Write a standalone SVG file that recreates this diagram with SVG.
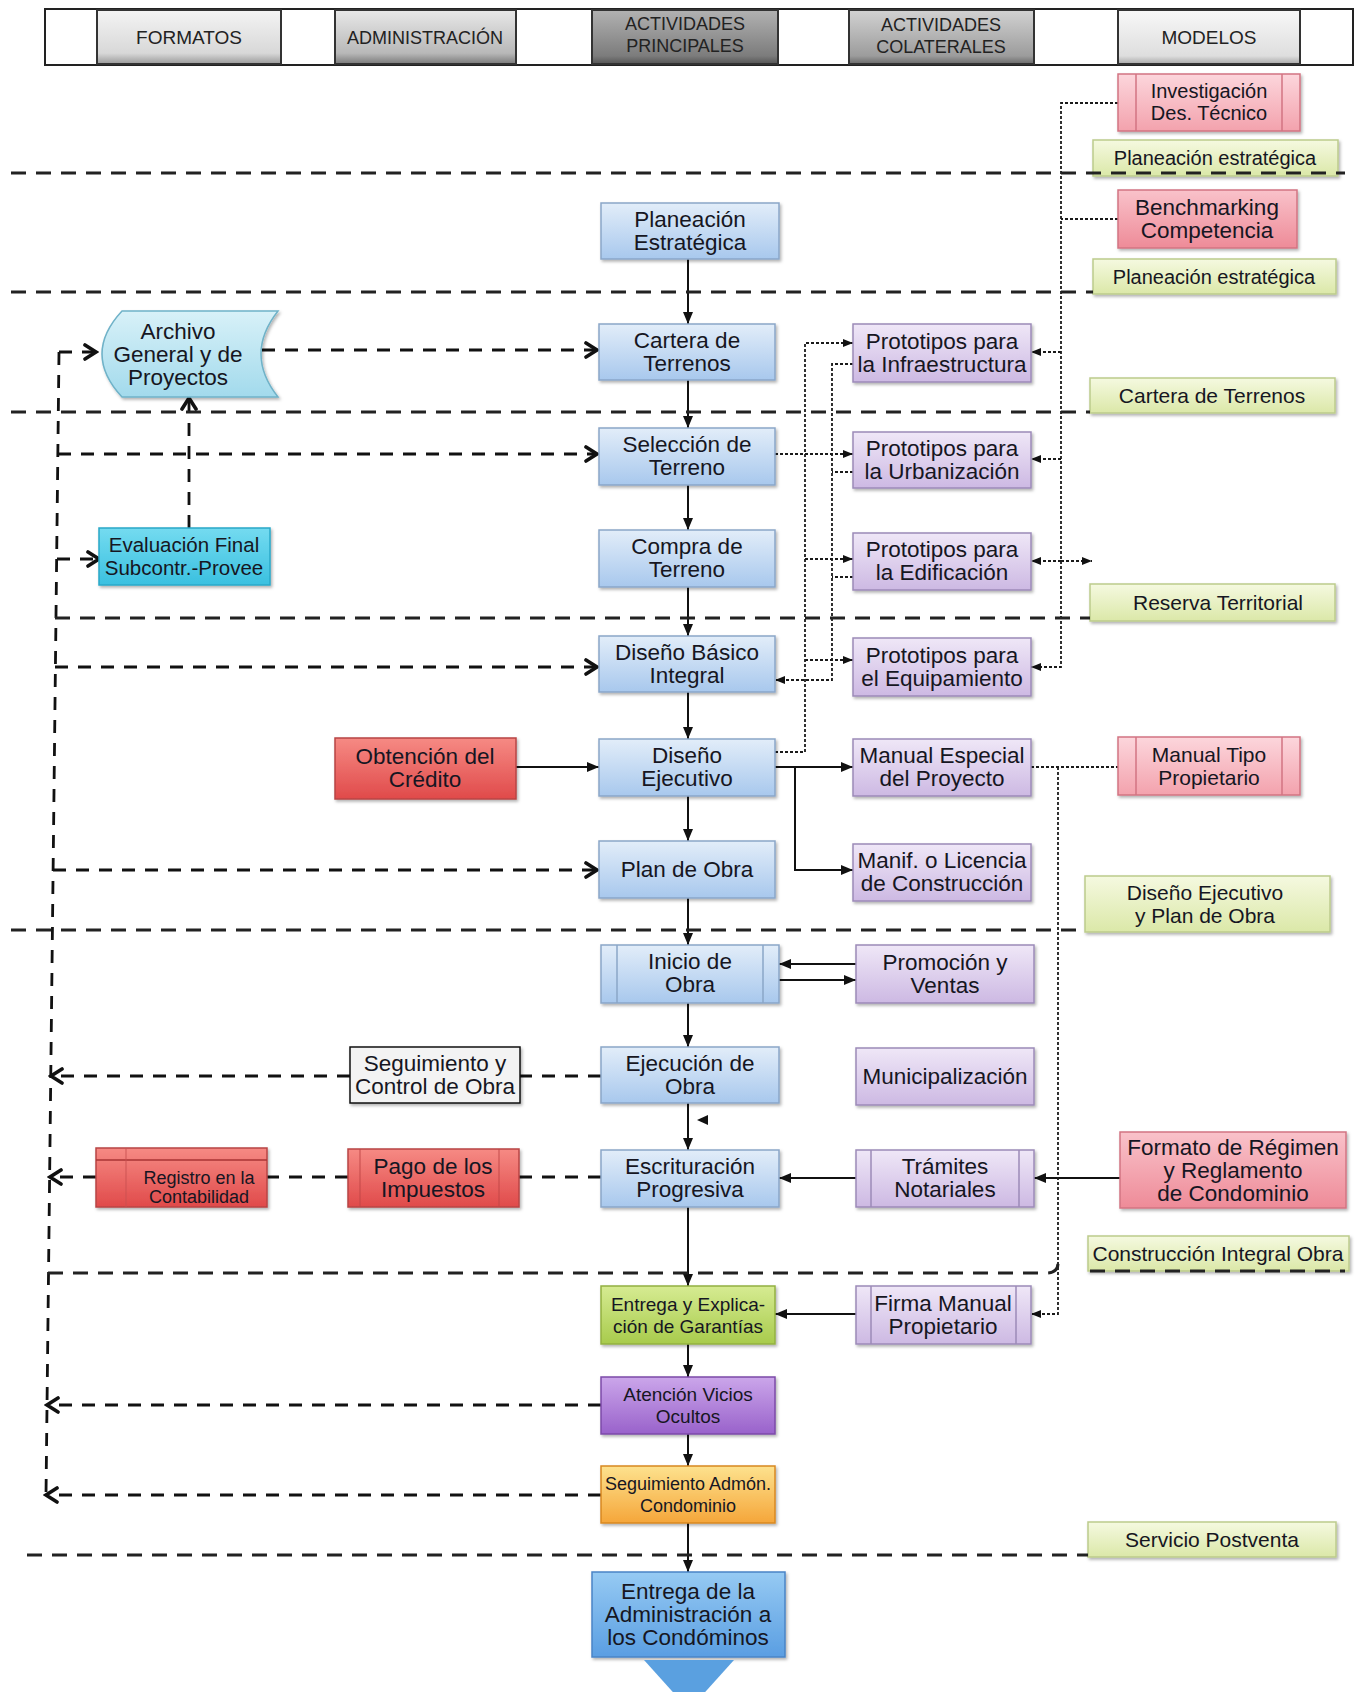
<svg xmlns="http://www.w3.org/2000/svg" width="1362" height="1692" viewBox="0 0 1362 1692">
<style>
  .t{font-family:"Liberation Sans",Arial,sans-serif;font-size:22.5px;fill:#161622;text-anchor:middle}
  .s20{font-size:20px}.s21{font-size:21px}.s19{font-size:19px}.s18{font-size:18px}
  .hd{font-family:"Liberation Sans",Arial,sans-serif;font-size:19px;fill:#222;text-anchor:middle}
  .box{stroke-width:1.5;filter:url(#sh)}
  .blue{fill:url(#gBlue);stroke:#8aa6c8}
  .purple{fill:url(#gPurple);stroke:#9c8ab8}
  .pink{fill:url(#gPink);stroke:#d27482}
  .pinkL{fill:url(#gPinkL);stroke:#d27482}
  .green{fill:url(#gGreen);stroke:#bccb8c}
  .red{fill:url(#gRed);stroke:#b84444}
  .inner{fill:none;stroke-width:1.5}
  .solid{fill:none;stroke:#111;stroke-width:2;marker-end:url(#arr)}
  .dash{fill:none;stroke:#111;stroke-width:2.8;stroke-dasharray:13 10}
  .dot{fill:none;stroke:#1a1a1a;stroke-width:1.8;stroke-dasharray:3 2}
  .sep{fill:none;stroke:#222;stroke-width:3;stroke-dasharray:15 10}
  .cell{stroke:#333;stroke-width:2}
</style>
<defs>
  <filter id="sh" x="-5%" y="-5%" width="115%" height="130%">
    <feDropShadow dx="1.5" dy="2" stdDeviation="1.5" flood-color="#000" flood-opacity="0.3"/>
  </filter>
  <linearGradient id="gBlue" x1="0" y1="0" x2="0" y2="1"><stop offset="0" stop-color="#e2edf9"/><stop offset="1" stop-color="#a8c8ed"/></linearGradient>
  <linearGradient id="gPurple" x1="0" y1="0" x2="0" y2="1"><stop offset="0" stop-color="#efe7f7"/><stop offset="1" stop-color="#cdb9e3"/></linearGradient>
  <linearGradient id="gPink" x1="0" y1="0" x2="0" y2="1"><stop offset="0" stop-color="#f9c2ca"/><stop offset="1" stop-color="#ee8b98"/></linearGradient>
  <linearGradient id="gPinkL" x1="0" y1="0" x2="0" y2="1"><stop offset="0" stop-color="#fcd6dc"/><stop offset="1" stop-color="#f3a2ad"/></linearGradient>
  <linearGradient id="gGreen" x1="0" y1="0" x2="0" y2="1"><stop offset="0" stop-color="#f5f9e0"/><stop offset="1" stop-color="#dbe8a8"/></linearGradient>
  <linearGradient id="gRed" x1="0" y1="0" x2="0" y2="1"><stop offset="0" stop-color="#f68a84"/><stop offset="1" stop-color="#e04a4a"/></linearGradient>
  <linearGradient id="gCyan" x1="0" y1="0" x2="0" y2="1"><stop offset="0" stop-color="#d8f1f8"/><stop offset="1" stop-color="#a2daec"/></linearGradient>
  <linearGradient id="gCyan2" x1="0" y1="0" x2="0" y2="1"><stop offset="0" stop-color="#74dbf0"/><stop offset="1" stop-color="#3ac0e0"/></linearGradient>
  <linearGradient id="gLime" x1="0" y1="0" x2="0" y2="1"><stop offset="0" stop-color="#d6eb92"/><stop offset="1" stop-color="#a8cb4c"/></linearGradient>
  <linearGradient id="gViolet" x1="0" y1="0" x2="0" y2="1"><stop offset="0" stop-color="#cba6ea"/><stop offset="1" stop-color="#9962cb"/></linearGradient>
  <linearGradient id="gOrange" x1="0" y1="0" x2="0" y2="1"><stop offset="0" stop-color="#fde28e"/><stop offset="1" stop-color="#f5a63a"/></linearGradient>
  <linearGradient id="gBlue2" x1="0" y1="0" x2="0" y2="1"><stop offset="0" stop-color="#96caf3"/><stop offset="1" stop-color="#5a9ee2"/></linearGradient>
  <linearGradient id="hg1" x1="0" y1="0" x2="0" y2="1"><stop offset="0" stop-color="#f4f4f4"/><stop offset="0.8" stop-color="#d8d8d8"/><stop offset="1" stop-color="#9a9a9a"/></linearGradient>
  <linearGradient id="hg2" x1="0" y1="0" x2="0" y2="1"><stop offset="0" stop-color="#e8e8e8"/><stop offset="0.8" stop-color="#b8b8b8"/><stop offset="1" stop-color="#7a7a7a"/></linearGradient>
  <linearGradient id="hg3" x1="0" y1="0" x2="0" y2="1"><stop offset="0" stop-color="#b2b2b2"/><stop offset="0.85" stop-color="#7c7c7c"/><stop offset="1" stop-color="#555"/></linearGradient>
  <linearGradient id="hg4" x1="0" y1="0" x2="0" y2="1"><stop offset="0" stop-color="#d2d2d2"/><stop offset="0.85" stop-color="#9c9c9c"/><stop offset="1" stop-color="#6a6a6a"/></linearGradient>
  <linearGradient id="hg5" x1="0" y1="0" x2="0" y2="1"><stop offset="0" stop-color="#f8f8f8"/><stop offset="0.85" stop-color="#dedede"/><stop offset="1" stop-color="#a8a8a8"/></linearGradient>
  <marker id="arr" viewBox="0 0 12 10" refX="12" refY="5" markerWidth="12" markerHeight="10" markerUnits="userSpaceOnUse" orient="auto"><path d="M0,0 L12,5 L0,10 z" fill="#111"/></marker>
  <marker id="chev" viewBox="0 0 16 18" refX="13" refY="9" markerWidth="16" markerHeight="18" markerUnits="userSpaceOnUse" orient="auto"><path d="M2,2 L13,9 L2,16" fill="none" stroke="#111" stroke-width="3.6" stroke-linecap="round" stroke-linejoin="miter"/></marker>
  <marker id="tri" viewBox="0 0 10 8" refX="10" refY="4" markerWidth="10" markerHeight="8" markerUnits="userSpaceOnUse" orient="auto"><path d="M0,0 L10,4 L0,8 z" fill="#111"/></marker>
</defs>

<rect width="1362" height="1692" fill="#ffffff"/>

<!-- column header -->
<g id="header">
  <rect x="45" y="9" width="1308" height="56" fill="#fff" stroke="#222" stroke-width="2"/>
  <rect class="cell" x="97" y="10" width="184" height="54" fill="url(#hg1)"/>
  <text class="hd" x="189" y="44">FORMATOS</text>
  <rect class="cell" x="335" y="10" width="181" height="54" fill="url(#hg2)"/>
  <text class="hd" x="425" y="44" style="font-size:18px">ADMINISTRACIÓN</text>
  <rect class="cell" x="592" y="10" width="186" height="54" fill="url(#hg3)"/>
  <text class="hd" x="685" y="30" style="font-size:18px">ACTIVIDADES</text>
  <text class="hd" x="685" y="52" style="font-size:18px">PRINCIPALES</text>
  <rect class="cell" x="849" y="10" width="185" height="54" fill="url(#hg4)"/>
  <text class="hd" x="941" y="31" style="font-size:18px">ACTIVIDADES</text>
  <text class="hd" x="941" y="53" style="font-size:18px">COLATERALES</text>
  <rect class="cell" x="1118" y="10" width="182" height="54" fill="url(#hg5)"/>
  <text class="hd" x="1209" y="44">MODELOS</text>
</g>

<!-- connectors -->
<g id="connectors">
  <!-- main sequence -->
  <path class="solid" d="M688 259V324"/>
  <path class="solid" d="M688 380V428"/>
  <path class="solid" d="M688 485V530"/>
  <path class="solid" d="M688 587V636"/>
  <path class="solid" d="M688 692V739"/>
  <path class="solid" d="M688 796V841"/>
  <path class="solid" d="M688 898V945"/>
  <path class="solid" d="M688 1003V1047"/>
  <path class="solid" d="M688 1103V1150"/>
  <path class="solid" d="M688 1207V1286"/>
  <path class="solid" d="M688 1344V1377"/>
  <path class="solid" d="M688 1434V1466"/>
  <path class="solid" d="M688 1523V1572"/>
  <polygon points="697,1120 708,1115 708,1125" fill="#111"/>
  <!-- side solid links -->
  <path class="solid" d="M516 767H599"/>
  <path class="solid" d="M775 767H853"/>
  <path class="solid" d="M795 767V870H853"/>
  <path class="solid" d="M856 964H779"/>
  <path class="solid" d="M779 980H856"/>
  <path class="solid" d="M856 1178H779"/>
  <path class="solid" d="M1120 1178H1034"/>
  <path class="solid" d="M856 1314H775"/>

  <!-- archive / administration feedback -->
  <path class="dash" d="M59 352L46 1495"/>
  <path class="dash" d="M59 352H96" marker-end="url(#chev)"/>
  <path class="dash" d="M262 350H597" marker-end="url(#chev)"/>
  <path class="dash" d="M58 454H597" marker-end="url(#chev)"/>
  <path class="dash" d="M189 528V398" marker-end="url(#chev)"/>
  <path class="dash" d="M57 559H99" marker-end="url(#chev)"/>
  <path class="dash" d="M55 667H597" marker-end="url(#chev)"/>
  <path class="dash" d="M53 870H597" marker-end="url(#chev)"/>
  <path class="dash" d="M601 1076H520"/>
  <path class="dash" d="M350 1076H51" marker-end="url(#chev)"/>
  <path class="dash" d="M601 1177H519"/>
  <path class="dash" d="M348 1177H267"/>
  <path class="dash" d="M96 1177H50" marker-end="url(#chev)"/>
  <path class="dash" d="M601 1405H47" marker-end="url(#chev)"/>
  <path class="dash" d="M601 1495H46" marker-end="url(#chev)"/>

  <!-- model feeds -->
  <path class="dot" d="M1118 103H1061V667H1031" marker-end="url(#tri)"/>
  <path class="dot" d="M1118 219H1061"/>
  <path class="dot" d="M1061 352H1031" marker-end="url(#tri)"/>
  <path class="dot" d="M1061 459H1031" marker-end="url(#tri)"/>
  <path class="dot" d="M1061 561H1031" marker-end="url(#tri)"/>
  <path class="dot" d="M1061 561H1092" marker-end="url(#tri)"/>
  <path class="dot" d="M1031 767H1118"/>
  <path class="dot" d="M1058 767V1314H1031" marker-end="url(#tri)"/>
  <!-- prototype loops -->
  <path class="dot" d="M775 752H805V343H853" marker-end="url(#tri)"/>
  <path class="dot" d="M775 454H853" marker-end="url(#tri)"/>
  <path class="dot" d="M805 559H853" marker-end="url(#tri)"/>
  <path class="dot" d="M805 660H853" marker-end="url(#tri)"/>
  <path class="dot" d="M853 364H832V680H775" marker-end="url(#tri)"/>
  <path class="dot" d="M853 472H832"/>
  <path class="dot" d="M853 577H832"/>
</g>

<!-- main activities -->
<g id="n-planeacion"><rect class="box blue" x="601" y="203" width="178" height="56"/><text class="t" x="690" y="227">Planeación</text><text class="t" x="690" y="250">Estratégica</text></g>
<g id="n-cartera"><rect class="box blue" x="599" y="324" width="176" height="56"/><text class="t" x="687" y="348">Cartera de</text><text class="t" x="687" y="371">Terrenos</text></g>
<g id="n-seleccion"><rect class="box blue" x="599" y="428" width="176" height="57"/><text class="t" x="687" y="452">Selección de</text><text class="t" x="687" y="475">Terreno</text></g>
<g id="n-compra"><rect class="box blue" x="599" y="530" width="176" height="57"/><text class="t" x="687" y="554">Compra de</text><text class="t" x="687" y="577">Terreno</text></g>
<g id="n-disenobasico"><rect class="box blue" x="599" y="636" width="176" height="56"/><text class="t" x="687" y="660">Diseño Básico</text><text class="t" x="687" y="683">Integral</text></g>
<g id="n-disenoejecutivo"><rect class="box blue" x="599" y="739" width="176" height="57"/><text class="t" x="687" y="763">Diseño</text><text class="t" x="687" y="786">Ejecutivo</text></g>
<g id="n-plandeobra"><rect class="box blue" x="599" y="841" width="176" height="57"/><text class="t" x="687" y="877">Plan de Obra</text></g>
<g id="n-inicio"><rect class="box blue" x="601" y="945" width="178" height="58"/><path class="inner" stroke="#8aa6c8" d="M617 945V1003M763 945V1003"/><text class="t" x="690" y="969">Inicio de</text><text class="t" x="690" y="992">Obra</text></g>
<g id="n-ejecucion"><rect class="box blue" x="601" y="1047" width="178" height="56"/><text class="t" x="690" y="1071">Ejecución de</text><text class="t" x="690" y="1094">Obra</text></g>
<g id="n-escrituracion"><rect class="box blue" x="601" y="1150" width="178" height="57"/><text class="t" x="690" y="1174">Escrituración</text><text class="t" x="690" y="1197">Progresiva</text></g>
<g id="n-garantias"><rect class="box" x="601" y="1286" width="174" height="58" fill="url(#gLime)" stroke="#93b040"/><text class="t s19" x="688" y="1311" fill="#1e2a10">Entrega y Explica-</text><text class="t s19" x="688" y="1333">ción de Garantías</text></g>
<g id="n-vicios"><rect class="box" x="601" y="1377" width="174" height="57" fill="url(#gViolet)" stroke="#7c4aa8"/><text class="t s19" x="688" y="1401">Atención Vicios</text><text class="t s19" x="688" y="1423">Ocultos</text></g>
<g id="n-admon"><rect class="box" x="601" y="1466" width="174" height="57" fill="url(#gOrange)" stroke="#d88820"/><text class="t s18" x="688" y="1490">Seguimiento Admón.</text><text class="t s18" x="688" y="1512">Condominio</text></g>
<g id="n-entrega"><rect class="box" x="592" y="1572" width="193" height="85" fill="url(#gBlue2)" stroke="#4a84c6"/><text class="t" x="688" y="1599">Entrega de la</text><text class="t" x="688" y="1622">Administración a</text><text class="t" x="688" y="1645">los Condóminos</text><polygon points="644,1660 734,1660 689,1710" fill="#5aa0e0"/></g>

<!-- collateral activities -->
<g id="n-infra"><rect class="box purple" x="853" y="324" width="178" height="58"/><text class="t" x="942" y="349">Prototipos para</text><text class="t" x="942" y="372">la Infraestructura</text></g>
<g id="n-urban"><rect class="box purple" x="853" y="432" width="178" height="56"/><text class="t" x="942" y="456">Prototipos para</text><text class="t" x="942" y="479">la Urbanización</text></g>
<g id="n-edif"><rect class="box purple" x="853" y="533" width="178" height="57"/><text class="t" x="942" y="557">Prototipos para</text><text class="t" x="942" y="580">la Edificación</text></g>
<g id="n-equip"><rect class="box purple" x="853" y="638" width="178" height="58"/><text class="t" x="942" y="663">Prototipos para</text><text class="t" x="942" y="686">el Equipamiento</text></g>
<g id="n-manualesp"><rect class="box purple" x="853" y="739" width="178" height="57"/><text class="t" x="942" y="763">Manual Especial</text><text class="t" x="942" y="786">del Proyecto</text></g>
<g id="n-licencia"><rect class="box purple" x="853" y="844" width="178" height="57"/><text class="t" x="942" y="868">Manif. o Licencia</text><text class="t" x="942" y="891">de Construcción</text></g>
<g id="n-promocion"><rect class="box purple" x="856" y="945" width="178" height="58"/><text class="t" x="945" y="970">Promoción y</text><text class="t" x="945" y="993">Ventas</text></g>
<g id="n-municipal"><rect class="box purple" x="856" y="1048" width="178" height="57"/><text class="t" x="945" y="1084">Municipalización</text></g>
<g id="n-tramites"><rect class="box purple" x="856" y="1150" width="178" height="57"/><path class="inner" stroke="#9c8ab8" d="M871 1150V1207M1019 1150V1207"/><text class="t" x="945" y="1174">Trámites</text><text class="t" x="945" y="1197">Notariales</text></g>
<g id="n-firma"><rect class="box purple" x="856" y="1286" width="175" height="58"/><path class="inner" stroke="#9c8ab8" d="M871 1286V1344M1016 1286V1344"/><text class="t" x="943" y="1311">Firma Manual</text><text class="t" x="943" y="1334">Propietario</text></g>

<!-- models -->
<g id="m-investigacion"><rect class="box pinkL" x="1118" y="74" width="182" height="57"/><path class="inner" stroke="#d27482" d="M1136 74V131M1282 74V131"/><text class="t s20" x="1209" y="98">Investigación</text><text class="t s20" x="1209" y="120">Des. Técnico</text></g>
<g id="m-plan1"><rect class="box green" x="1093" y="140" width="245" height="36"/><text class="t s20" x="1215" y="165">Planeación estratégica</text></g>
<g id="m-benchmarking"><rect class="box pink" x="1118" y="190" width="179" height="58"/><text class="t" x="1207" y="215">Benchmarking</text><text class="t" x="1207" y="238">Competencia</text></g>
<g id="m-plan2"><rect class="box green" x="1093" y="259" width="243" height="35"/><text class="t s20" x="1214" y="284">Planeación estratégica</text></g>
<g id="m-cartera"><rect class="box green" x="1090" y="378" width="245" height="35"/><text class="t s21" x="1212" y="403">Cartera de Terrenos</text></g>
<g id="m-reserva"><rect class="box green" x="1090" y="584" width="245" height="37"/><text class="t s21" x="1218" y="610">Reserva Territorial</text></g>
<g id="m-manualtipo"><rect class="box pinkL" x="1118" y="737" width="182" height="58"/><path class="inner" stroke="#d27482" d="M1136 737V795M1282 737V795"/><text class="t s21" x="1209" y="762">Manual Tipo</text><text class="t s21" x="1209" y="785">Propietario</text></g>
<g id="m-disenoplan"><rect class="box green" x="1085" y="876" width="245" height="56"/><text class="t s21" x="1205" y="900">Diseño Ejecutivo</text><text class="t s21" x="1205" y="923">y Plan de Obra</text></g>
<g id="m-regimen"><rect class="box pink" x="1120" y="1132" width="226" height="76"/><text class="t" x="1233" y="1155">Formato de Régimen</text><text class="t" x="1233" y="1178">y Reglamento</text><text class="t" x="1233" y="1201">de Condominio</text></g>
<g id="m-construccion"><rect class="box green" x="1088" y="1236" width="261" height="35"/><text class="t s21" x="1218" y="1261">Construcción Integral Obra</text></g>
<g id="m-postventa"><rect class="box green" x="1088" y="1522" width="248" height="35"/><text class="t s21" x="1212" y="1547">Servicio Postventa</text></g>

<!-- formats and administration -->
<g id="f-archivo"><path class="box" d="M122 311H278Q244 354 278 397H122Q82 354 122 311Z" fill="url(#gCyan)" stroke="#6fb2c8"/><text class="t" x="178" y="339">Archivo</text><text class="t" x="178" y="362">General y de</text><text class="t" x="178" y="385">Proyectos</text></g>
<g id="f-evaluacion"><rect class="box" x="99" y="528" width="171" height="57" fill="url(#gCyan2)" stroke="#2aa8c8"/><text class="t" x="184" y="552" style="font-size:20.5px" fill="#102040">Evaluación Final</text><text class="t" x="184" y="575" style="font-size:20.5px">Subcontr.-Provee</text></g>
<g id="a-credito"><rect class="box red" x="335" y="738" width="181" height="61"/><text class="t" x="425" y="764">Obtención del</text><text class="t" x="425" y="787">Crédito</text></g>
<g id="a-seguimiento"><rect class="box" x="350" y="1047" width="170" height="56" fill="#f3f3f3" stroke="#111" stroke-width="2.2"/><text class="t" x="435" y="1071">Seguimiento y</text><text class="t" x="435" y="1094">Control de Obra</text></g>
<g id="f-registro"><rect class="box red" x="96" y="1148" width="171" height="59"/><path class="inner" stroke="#a83434" d="M96 1160H267"/><path class="inner" stroke="#c85050" stroke-opacity="0.6" d="M126 1148V1207"/><text class="t s18" x="199" y="1184">Registro en la</text><text class="t s18" x="199" y="1203">Contabilidad</text></g>
<g id="a-impuestos"><rect class="box red" x="348" y="1149" width="171" height="58"/><path class="inner" stroke="#c04646" stroke-opacity="0.6" d="M360 1149V1207M499 1149V1207"/><text class="t" x="433" y="1174">Pago de los</text><text class="t" x="433" y="1197">Impuestos</text></g>

<!-- phase separators -->
<g id="phases">
  <path class="sep" d="M11 173H1345"/>
  <path class="sep" d="M11 292H1093"/>
  <path class="sep" d="M11 412H1090"/>
  <path class="sep" d="M55 618H1090"/>
  <path class="sep" d="M11 930H1085"/>
  <path class="sep" d="M48 1273H1046Q1058 1273 1058 1263"/>
  <path class="sep" d="M1090 1271H1345"/>
  <path class="sep" d="M27 1555H1088"/>
</g>
</svg>
